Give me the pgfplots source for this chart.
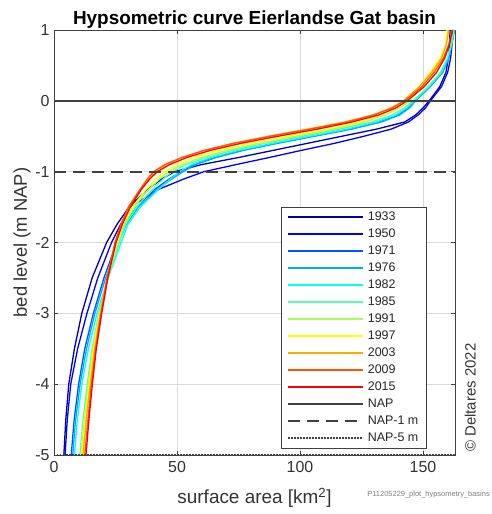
\documentclass[border=0pt]{standalone}
\usepackage{fontspec}
\setmainfont{Liberation Sans}
\usepackage{pgfplots}
\usepackage{pgfplotstable}
\pgfplotsset{compat=1.18}
\definecolor{j1}{rgb}{0,0,0.667}
\definecolor{j2}{rgb}{0,0,1}
\definecolor{j3}{rgb}{0,0.333,1}
\definecolor{j4}{rgb}{0,0.667,1}
\definecolor{j5}{rgb}{0,1,1}
\definecolor{j6}{rgb}{0.333,1,0.667}
\definecolor{j7}{rgb}{0.667,1,0.333}
\definecolor{j8}{rgb}{1,1,0}
\definecolor{j9}{rgb}{1,0.667,0}
\definecolor{j10}{rgb}{1,0.333,0}
\definecolor{j11}{rgb}{1,0,0}
\definecolor{axgray}{rgb}{0.25,0.25,0.25}
\pgfplotstableread{
y     a1933 a1950 a1971 a1976 a1982 a1985 a1991 a1997 a2003 a2009 a2015
-5    4.0   4.5   7.0   7.6   8.3   10.5  11.0  11.3  11.8  12.5  13.0
-4.5  4.8   5.4   8.2   8.8   9.5   11.8  12.4  12.7  13.1  13.8  14.2
-4    6.0   6.8   10.0  10.6  11.3  13.5  14.0  14.3  14.7  15.2  15.6
-3.5  8.3   9.6   12.5  13.2  14.0  15.5  15.8  16.1  16.5  16.9  17.2
-3    11.3  13.4  16.0  16.6  17.5  18.2  18.4  18.6  18.8  19.1  19.4
-2.5  15.5  17.8  20.3  21.0  22.0  22.0  21.8  21.7  21.5  21.6  21.9
-2    21.4  23.4  25.5  26.3  27.3  26.5  26.0  25.6  25.2  24.8  25.2
-1.75 25.5  27.0  28.5  29.3  30.0  29.0  28.5  28.0  27.5  27.2  27.7
-1.5  30.5  31.0  33.5  34.3  35.0  33.5  32.5  31.8  30.5  30.2  31.0
-1.25 38.0  42.5  41.0  42.0  42.5  40.0  38.5  37.5  35.5  35.0  35.5
-1.1  44.0  53.0  47.0  48.0  47.5  44.5  43.0  41.5  38.5  38.0  39.0
-1    49.0  61.0  51.5  52.5  51.0  48.0  46.5  45.0  41.0  40.5  42.0
-0.9  60.0  74.0  57.0  57.5  56.0  53.5  52.0  50.0  45.5  45.0  47.0
-0.8  75.0  87.5  65.0  66.0  64.0  62.0  60.0  57.0  52.0  52.0  54.0
-0.7  89.0  100.5 76.0  77.0  75.0  72.5  70.0  67.0  61.0  61.0  63.5
-0.6  103.0 114.0 90.0  91.0  89.0  86.0  83.0  80.0  73.0  73.0  76.0
-0.5  117.0 126.0 105.0 106.0 104.0 101.0 98.0  95.0  87.0  88.0  91.0
-0.4  131.0 137.0 120.0 121.0 119.0 116.0 113.0 111.0 103.0 104.0 107.0
-0.3  142.5 144.0 132.0 133.0 131.0 129.0 126.0 124.0 118.0 119.0 121.0
-0.2  147.0 148.0 140.0 140.5 139.0 137.5 134.5 133.0 129.5 130.0 132.0
-0.1  150.0 151.0 144.0 144.5 143.5 142.5 140.5 139.5 137.0 137.5 139.0
0     152.5 153.0 146.5 147.0 146.5 146.0 144.5 143.5 142.0 142.5 143.5
0.2   156.8 157.5 152.5 153.0 152.5 152.0 149.5 148.5 148.5 149.5 150.5
0.4   159.3 160.0 157.5 158.0 157.5 157.0 154.0 153.0 153.5 154.5 155.5
0.6   160.3 161.2 160.2 160.5 160.0 159.8 157.5 157.0 157.5 158.3 158.8
0.8   160.8 161.8 161.7 161.8 161.6 161.5 159.5 159.3 159.5 160.5 160.8
1     161.0 162.2 162.5 162.8 162.6 162.5 160.2 159.6 160.5 161.8 162.0
}\hyps
\begin{document}
\begin{tikzpicture}
\path[use as bounding box] (0,0) rectangle (492bp,514bp);
\begin{axis}[
  at={(54bp,59bp)}, anchor=south west,
  scale only axis, width=401bp, height=425bp,
  xmin=0, xmax=163, ymin=-5, ymax=1,
  xtick={0,50,100,150}, ytick={-5,-4,-3,-2,-1,0,1},
  yticklabels={-5,-4,-3,-2,-1,0,1},
  grid=major, grid style={black!15, line width=0.6bp},
  axis line style={axgray, line width=0.7bp},
  tick style={axgray, line width=0.6bp},
  tick align=inside, major tick length=4bp,
  /pgf/number format/assume math mode=true,
  ticklabel style={font=\fontsize{16}{16}\selectfont, text=black!80},
  xticklabel style={yshift=-3bp},
  yticklabel style={xshift=-1bp},
  xlabel={surface area [km\textsuperscript{2}]},
  ylabel={bed level (m NAP)},
  xlabel style={at={(axis description cs:0.5,0)}, anchor=center, yshift=-43bp, font=\fontsize{19}{19}\selectfont, text=black!80},
  ylabel style={at={(axis description cs:0,0.5)}, anchor=center, yshift=32bp, font=\fontsize{18.5}{18.5}\selectfont, text=black!80},
  title={Hypsometric curve Eierlandse Gat basin},
  title style={at={(axis description cs:0.5,1)}, anchor=center, yshift=4bp, font=\bfseries\fontsize{19}{19}\selectfont},
  clip=false,
  legend cell align=left,
  legend image code/.code={\draw[#1, line width=1.7bp] (0bp,0bp) -- (75bp,0bp);},
  legend style={at={(rel axis cs:0.566,0.0165)}, anchor=south west,
    draw=axgray, fill=white,
    font=\fontsize{12.5}{12.5}\selectfont, text=black!85,
    inner xsep=6bp, inner ysep=2.5bp, row sep=2bp, column sep=2bp,
    nodes={inner sep=2bp, text height=9bp, text depth=2bp}},
]
\addplot[j1, line width=1.3bp] table[x=a1933, y=y] {\hyps};
\addplot[j2, line width=1.3bp] table[x=a1950, y=y] {\hyps};
\addplot[j3, line width=1.3bp] table[x=a1971, y=y] {\hyps};
\addplot[j4, line width=1.3bp] table[x=a1976, y=y] {\hyps};
\addplot[j5, line width=1.3bp] table[x=a1982, y=y] {\hyps};
\addplot[j6, line width=1.3bp] table[x=a1985, y=y] {\hyps};
\addplot[j7, line width=1.3bp] table[x=a1991, y=y] {\hyps};
\addplot[j8, line width=1.3bp] table[x=a1997, y=y] {\hyps};
\addplot[j9, line width=1.3bp] table[x=a2003, y=y] {\hyps};
\addplot[j10, line width=1.3bp] table[x=a2009, y=y] {\hyps};
\addplot[j11, line width=1.3bp] table[x=a2015, y=y] {\hyps};
\addplot[axgray, line width=2bp] coordinates {(0,0) (163,0)};
\addplot[axgray, line width=2bp, dash pattern=on 12bp off 7bp] coordinates {(0,-1) (163,-1)};
\addplot[axgray, line width=1.8bp, dash pattern=on 1.5bp off 1.5bp] coordinates {(0,-5) (163,-5)};
\legend{1933,1950,1971,1976,1982,1985,1991,1997,2003,2009,2015,NAP,NAP-1 m,NAP-5 m}
\node[xshift=21bp, yshift=3bp, rotate=90, anchor=south west, font=\fontsize{15}{15}\selectfont, text=black!80, inner sep=0pt] at (rel axis cs:1,0) {\textcopyright\ Deltares 2022};
\node[xshift=35bp, yshift=-40bp, anchor=east, font=\fontsize{7.5}{7.5}\selectfont, text=black!50, inner sep=0pt] at (rel axis cs:1,0) {P11205229\_plot\_hypsometry\_basins};
\end{axis}
\end{tikzpicture}
\end{document}
